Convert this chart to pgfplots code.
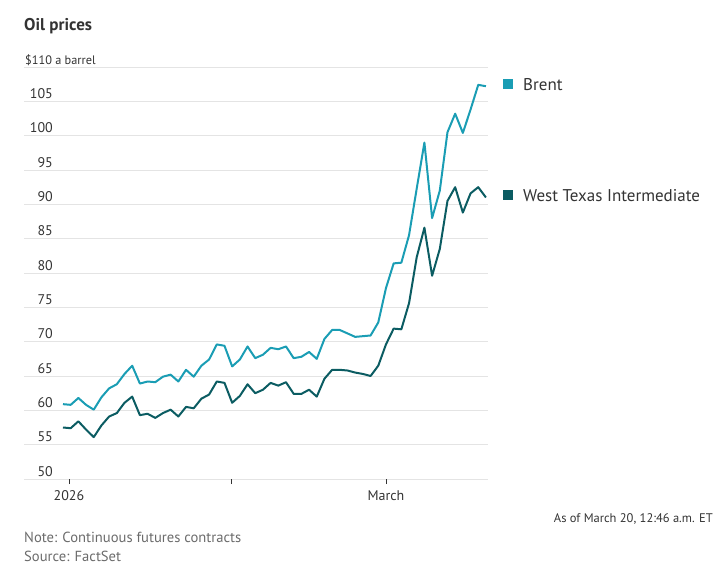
\documentclass[border=0pt]{standalone}
\usepackage{pgfplots}
\usepackage{pgfplotstable}
\pgfplotsset{compat=1.18}
\usepackage{fontspec}
\setmainfont{PT Sans}

\definecolor{brent}{HTML}{1A9DB4}
\definecolor{wti}{HTML}{0B5C62}
\definecolor{gridc}{HTML}{E4E4E4}
\definecolor{txt}{HTML}{333333}
\definecolor{note}{HTML}{6B6B6B}

% Daily settlement prices, $ a barrel; i = trading day counted from Dec. 31
\pgfplotstableread{
i  brent  wti
0  60.9   57.5
1  60.8   57.4
2  61.8   58.4
3  60.8   57.2
4  60.1   56.1
5  61.9   57.8
6  63.2   59.1
7  63.8   59.6
8  65.3   61.1
9  66.5   62.0
10 63.9   59.3
11 64.2   59.5
12 64.1   58.9
13 64.9   59.6
14 65.2   60.1
15 64.2   59.1
16 65.9   60.5
17 64.9   60.3
18 66.5   61.7
19 67.4   62.3
20 69.6   64.2
21 69.4   64.0
22 66.4   61.1
23 67.4   62.1
24 69.3   63.8
25 67.6   62.5
26 68.1   63.0
27 69.1   64.0
28 68.9   63.6
29 69.3   64.1
30 67.6   62.4
31 67.8   62.4
32 68.5   63.0
33 67.5   62.0
34 70.4   64.6
35 71.7   65.9
36 71.7   65.9
37 71.2   65.8
38 70.7   65.5
39 70.8   65.3
40 70.9   65.0
41 72.8   66.5
42 77.8   69.6
43 81.4   71.9
44 81.5   71.8
45 85.5   75.6
46 92.3   82.3
47 99.0   86.6
48 88.0   79.6
49 92.0   83.5
50 100.5  90.5
51 103.2  92.5
52 100.4  88.8
53 103.8  91.6
54 107.4  92.5
55 107.2  91.0
}\oildata

\begin{document}
\begin{tikzpicture}
\useasboundingbox (0,0) rectangle (724bp,-585bp);

\node[anchor=base west, inner sep=0pt, text=txt,
      font=\fontsize{17bp}{20bp}\selectfont\bfseries] at (24bp,-30.5bp) {Oil prices};

\begin{axis}[
  at={(24bp,-479bp)}, anchor=south west,
  scale only axis, width=464bp, height=412bp,
  xmin=-5.07, xmax=55.27, ymin=50, ymax=110,
  axis line style={draw=none},
  clip=false,
  /pgf/number format/assume math mode=true,
  ticklabel style={font=\fontsize{14bp}{16bp}\selectfont, text=txt},
  ytick={50,55,...,105},
  ymajorgrids,
  grid style={gridc, line width=1bp},
  ytick style={draw=none},
  yticklabel style={anchor=base east, inner sep=0pt, xshift=34bp, yshift=3bp},
  extra y ticks={110},
  extra y tick labels={\$110 a barrel},
  extra y tick style={yticklabel style={anchor=base west, xshift=-28bp,
      font=\fontsize{12.3bp}{15bp}\selectfont}},
  xtick={0.78,21.85,42.0},
  xticklabels={2026,,March},
  xtick pos=lower,
  tick align=outside,
  major tick length=5bp,
  xtick style={draw=txt, line width=0.9bp},
  xticklabel style={anchor=north, inner sep=0pt, yshift=-6bp},
]
\addplot[brent, line width=2bp, line join=round, no markers] table[x=i, y=brent] {\oildata};
\addplot[wti, line width=2bp, line join=round, no markers] table[x=i, y=wti] {\oildata};

% series keys beside the latest prices
\node[fill=brent, minimum size=10bp, inner sep=0pt, anchor=west, xshift=15bp]
  at (axis cs:55.27,107.5) {};
\node[anchor=base west, inner sep=0pt, text=txt, xshift=35bp, yshift=-6bp,
      font=\fontsize{17bp}{20bp}\selectfont] at (axis cs:55.27,107.5) {Brent};
\node[fill=wti, minimum size=10bp, inner sep=0pt, anchor=west, xshift=15bp]
  at (axis cs:55.27,91.3) {};
\node[anchor=base west, inner sep=0pt, text=txt, xshift=35bp, yshift=-6bp,
      font=\fontsize{17bp}{20bp}\selectfont] at (axis cs:55.27,91.3) {West Texas Intermediate};
\end{axis}

\node[anchor=base east, inner sep=0pt, text=txt,
      font=\fontsize{12.5bp}{15bp}\selectfont] at (713bp,-522.5bp) {As of March 20, 12:46 a.m. ET};
\node[anchor=base west, inner sep=0pt, text=note,
      font=\fontsize{14.6bp}{17bp}\selectfont] at (24bp,-542.5bp) {Note: Continuous futures contracts};
\node[anchor=base west, inner sep=0pt, text=note,
      font=\fontsize{14.6bp}{17bp}\selectfont] at (24bp,-561.5bp) {Source: FactSet};
\end{tikzpicture}
\end{document}
